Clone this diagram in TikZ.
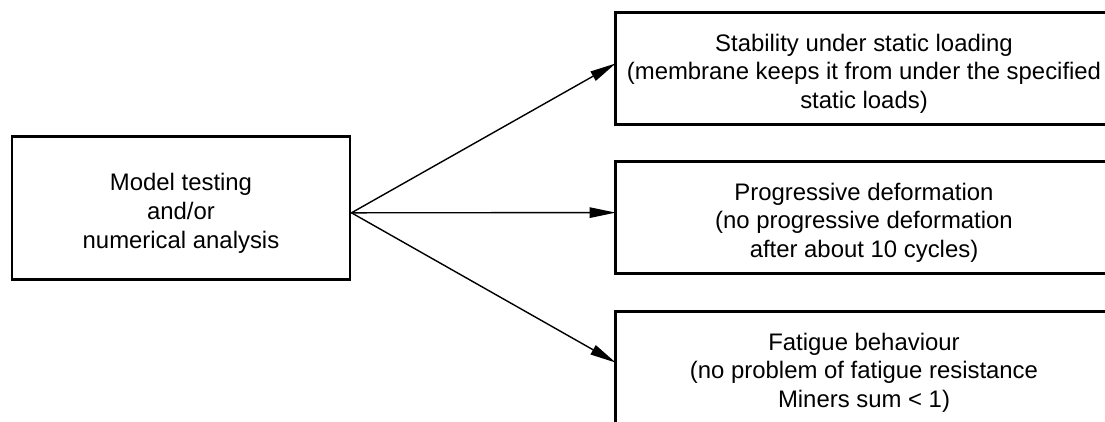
\documentclass[tikz,border=0pt]{standalone}
\usepackage{fontspec}
\setmainfont{Liberation Sans}
\usetikzlibrary{arrows.meta}
\tikzset{
	box/.style={draw, line width=2.1pt, align=center, minimum width=8.45cm, minimum height=3.575cm, text height=60.6pt, font=\fontsize{17}{20.6}\selectfont},
	goal/.style={align=center, minimum width=12.4cm, minimum height=2.775cm, text height=60pt, font=\fontsize{17}{20.3}\selectfont},
	frame/.style={line width=2.1pt},
	arr/.style={line width=1pt, -{Triangle[length=0.65cm, width=0.26cm]}}
}

\begin{document}
\begin{tikzpicture}
		%%%%% START %%%%%
		
		\useasboundingbox (0, 0) rectangle (27.625, -10.525);
		
		\node[box] (model) at (4.525, -5.21) {Model testing\\and/or\\numerical analysis};
		\coordinate (fork) at ([yshift=-0.11cm]model.east);
		
		\node[goal] (stability) at (21.6, -1.71) {Stability under static loading\\(membrane keeps it from under the specified\\static loads)};
		\node[goal] (progressive) at (21.6, -5.44) {Progressive deformation\\(no progressive deformation\\after about 10 cycles)};
		\node[goal] (fatigue) at (21.6, -9.19) {Fatigue behaviour\\(no problem of fatigue resistance\\Miners sum < 1)};
		
		% boxes run off the right edge
		\draw[frame] (stability.north west) rectangle ([xshift=2cm]stability.south east);
		\draw[frame] (progressive.north west) rectangle ([xshift=2cm]progressive.south east);
		\draw[frame] (fatigue.north west) rectangle ([xshift=2cm]fatigue.south east);
		
		\draw[arr] (fork) -- ([yshift=0.125cm]stability.west);
		\draw[arr] (fork) -- ([yshift=0.125cm]progressive.west);
		\draw[arr] (fork) -- ([yshift=0.125cm]fatigue.west);
		
		%%%%% END %%%%%
\end{tikzpicture}
\end{document}
